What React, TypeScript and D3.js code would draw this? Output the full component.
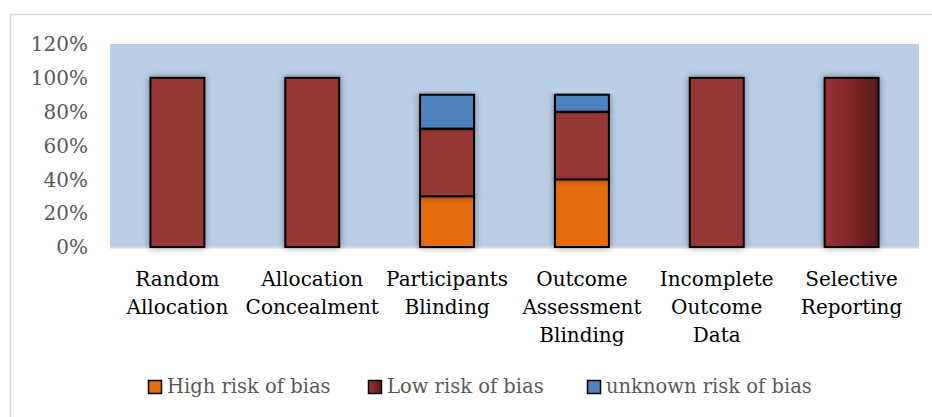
import React from 'react';
import * as d3 from 'd3';

const categories = [
  ['Random', 'Allocation'],
  ['Allocation', 'Concealment'],
  ['Participants', 'Blinding'],
  ['Outcome', 'Assessment', 'Blinding'],
  ['Incomplete', 'Outcome', 'Data'],
  ['Selective', 'Reporting'],
];
const seriesNames = ['High risk of bias', 'Low risk of bias', 'unknown risk of bias'];
const highRisk = [0, 0, 30, 40, 0, 0];
const lowRisk = [100, 100, 40, 40, 100, 100];
const unknownRisk = [0, 0, 20, 10, 0, 0];
const yTicks = [0, 20, 40, 60, 80, 100, 120];

const colors = ['#E46C0A', '#953735', '#4F81BD'];
const font = "'DejaVu Serif', serif";

const W = 932;
const H = 417;
const plot = { left: 110, right: 919, top: 44, bottom: 247 };

const App: React.FC = () => {
  const keys = categories.map((c) => c.join(' '));
  const x = d3.scaleBand().domain(keys).range([plot.left, plot.right]).paddingInner(0.6).paddingOuter(0.3);
  const y = d3.scaleLinear().domain([0, 120]).range([plot.bottom, plot.top]);

  const rows = keys.map((k, i) => ({ key: k, s0: highRisk[i], s1: lowRisk[i], s2: unknownRisk[i] }));
  const stack = d3.stack<any>().keys(['s0', 's1', 's2'])(rows);

  const legendX = [148, 368, 587];

  return (
    <svg width={W} height={H} style={{ position: 'absolute', left: 0, top: 0 }}>
      <defs>
        <filter id="shadow" x="-30%" y="-10%" width="160%" height="120%">
          <feGaussianBlur in="SourceAlpha" stdDeviation="3.5" />
          <feComponentTransfer>
            <feFuncA type="linear" slope="0.4" />
          </feComponentTransfer>
          <feMerge>
            <feMergeNode />
            <feMergeNode in="SourceGraphic" />
          </feMerge>
        </filter>
        <linearGradient id="redGrad" x1="0" x2="1" y1="0" y2="0">
          <stop offset="0%" stopColor="#9A3434" />
          <stop offset="50%" stopColor="#7E2627" />
          <stop offset="100%" stopColor="#5A1819" />
        </linearGradient>
      </defs>
      <rect x={10.5} y={14.5} width={930} height={410} fill="#fff" stroke="#D9D9D9" strokeWidth={1.5} />
      <rect x={plot.left} y={plot.top} width={plot.right - plot.left} height={plot.bottom - plot.top} fill="#B9CDE5" />
      <line x1={plot.left} x2={plot.right} y1={plot.bottom + 0.5} y2={plot.bottom + 0.5} stroke="#D9D9D9" strokeWidth={2} />

      {yTicks.map((t) => (
        <text key={t} x={88} y={y(t)} dy="0.36em" textAnchor="end" fontFamily={font} fontSize={20} fill="#595959">
          {t}%
        </text>
      ))}

      {stack.map((layer, si) =>
        layer.map((d, i) =>
          d[1] - d[0] > 0 ? (
            <rect
              key={`${si}-${i}`}
              x={x(keys[i])!}
              y={y(d[1])}
              width={x.bandwidth()}
              height={y(d[0]) - y(d[1])}
              fill={si === 1 && i === keys.length - 1 ? 'url(#redGrad)' : colors[si]}
              stroke="#000"
              strokeWidth={2}
              filter="url(#shadow)"
            />
          ) : null
        )
      )}

      {categories.map((lines, i) => (
        <text
          key={i}
          x={x(keys[i])! + x.bandwidth() / 2}
          y={286}
          textAnchor="middle"
          fontFamily={font}
          fontSize={20}
          fill="#000"
        >
          {lines.map((l, j) => (
            <tspan key={j} x={x(keys[i])! + x.bandwidth() / 2} dy={j === 0 ? 0 : 28}>
              {l}
            </tspan>
          ))}
        </text>
      ))}

      {seriesNames.map((s, i) => (
        <g key={s} transform={`translate(${legendX[i]}, 380)`}>
          <rect x={0.5} y={0.5} width={13} height={13} fill={i === 1 ? 'url(#redGrad)' : colors[i]} stroke="#000" strokeWidth={1.5} />
          <text x={19} y={13} fontFamily={font} fontSize={19.5} fill="#595959">
            {s}
          </text>
        </g>
      ))}
    </svg>
  );
};

export default App;
